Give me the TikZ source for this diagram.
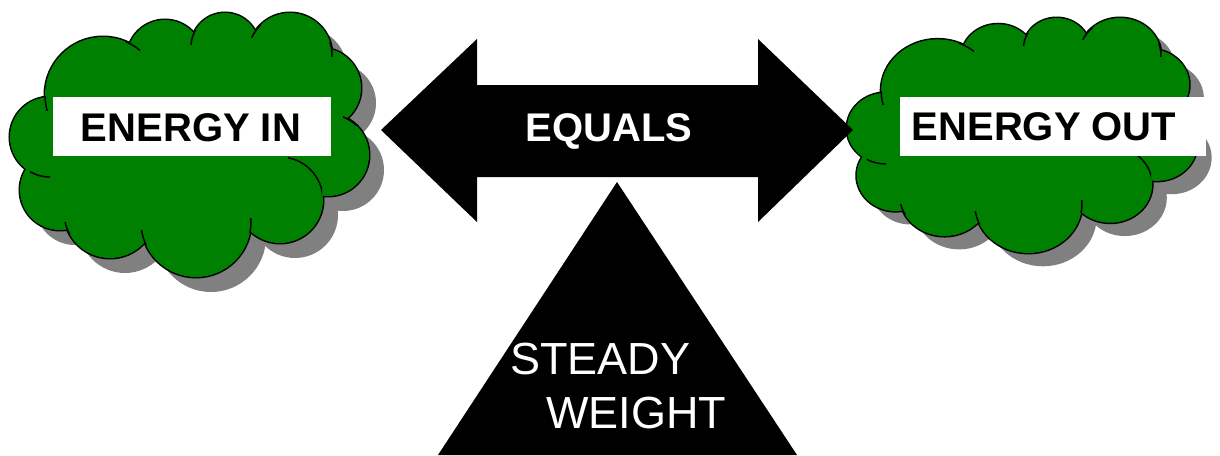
\documentclass[tikz,border=0pt]{standalone}
\usepackage{fontspec}
\setmainfont{Liberation Sans}
\definecolor{cloudgreen}{HTML}{008000}
\definecolor{shadowgray}{HTML}{808080}
\newcommand\puffpath[1]{%
  \foreach \cx/\cy/\r in {50/137/40,103/95/58,165/58/38,225/47/34,290/55/42,321/88/40,328/155/41,280/200/43,196/222/55,110/212/46,60/190/40,250/85/35}{%
    \path[#1] (\cx,\cy) circle[radius=\r];}%
  \path[#1] (190,150) ellipse[x radius=140,y radius=85];}
\newcommand\pufftick[6]{%
  \begin{scope}\clip (#1,#2) rectangle (#3,#4);
  \draw[line width=0.75pt] (#5) circle[radius=#6];\end{scope}}
\newcommand\puffticks{%
  \pufftick{38}{96}{50}{110}{103,95}{58}%
  \pufftick{125}{40}{140}{56}{103,95}{58}%
  \pufftick{188}{30}{200}{44}{225,47}{34}%
  \pufftick{250}{25}{264}{37}{290,55}{42}%
  \pufftick{324}{42}{336}{56}{290,55}{42}%
  \pufftick{343}{110}{357}{125}{328,155}{41}%
  \pufftick{288}{150}{322}{197}{280,200}{43}%
  \pufftick{243}{218}{256}{232}{196,222}{55}%
  \pufftick{136}{230}{148}{244}{196,222}{55}%
  \pufftick{55}{222}{70}{234}{110,212}{46}%
  \pufftick{30}{168}{50}{180}{50,137}{40}}
\newcommand\wholecloud{%
  \begin{scope}[shift={(15,15)}]\puffpath{fill=shadowgray}\end{scope}
  \puffpath{draw=black,line width=1.5pt}
  \puffpath{fill=cloudgreen}
  \puffticks}
\tikzset{
  boldlbl/.style={inner sep=0pt,font=\fontsize{20pt}{24pt}\selectfont\bfseries},
  thinlbl/.style={inner sep=0pt,font=\fontsize{22.5pt}{27pt}\selectfont,text=white},
  whitebox/.style={fill=white,inner sep=0pt}
}
\begin{document}
\begin{tikzpicture}[x=0.5pt,y=-0.5pt]
\useasboundingbox (0,0) rectangle (1220,455);
% left cloud
\wholecloud
% right cloud
\begin{scope}[shift={(847,18)},xscale=0.975,yscale=0.89,shift={(-10,-13)}]
\wholecloud
\end{scope}
% boxes
\node[whitebox,minimum width=139pt,minimum height=29.5pt] (inbox) at (192,126.5) {};
\node[boldlbl,anchor=base] (energyin) at (191,141) {ENERGY IN};
\node[whitebox,minimum width=153pt,minimum height=29.5pt] (outbox) at (1053,126.5) {};
\node[boldlbl,anchor=base] (energyout) at (1044,140) {ENERGY OUT};
% double arrow
\path[fill=black] (381,130) -- (477,39) -- (477,85) -- (758,85) -- (758,39)
  -- (853,130) -- (758,222) -- (758,177) -- (477,177) -- (477,222) -- cycle;
\node[boldlbl,text=white,anchor=base] (equals) at (609,141) {EQUALS};
% triangle
\path[fill=black] (617,182) -- (797,455) -- (438,455) -- cycle;
\node[thinlbl,anchor=base west] (steady) at (510,374) {STEADY};
\node[thinlbl,anchor=base west] (weight) at (546,428) {WEIGHT};
\end{tikzpicture}
\end{document}
